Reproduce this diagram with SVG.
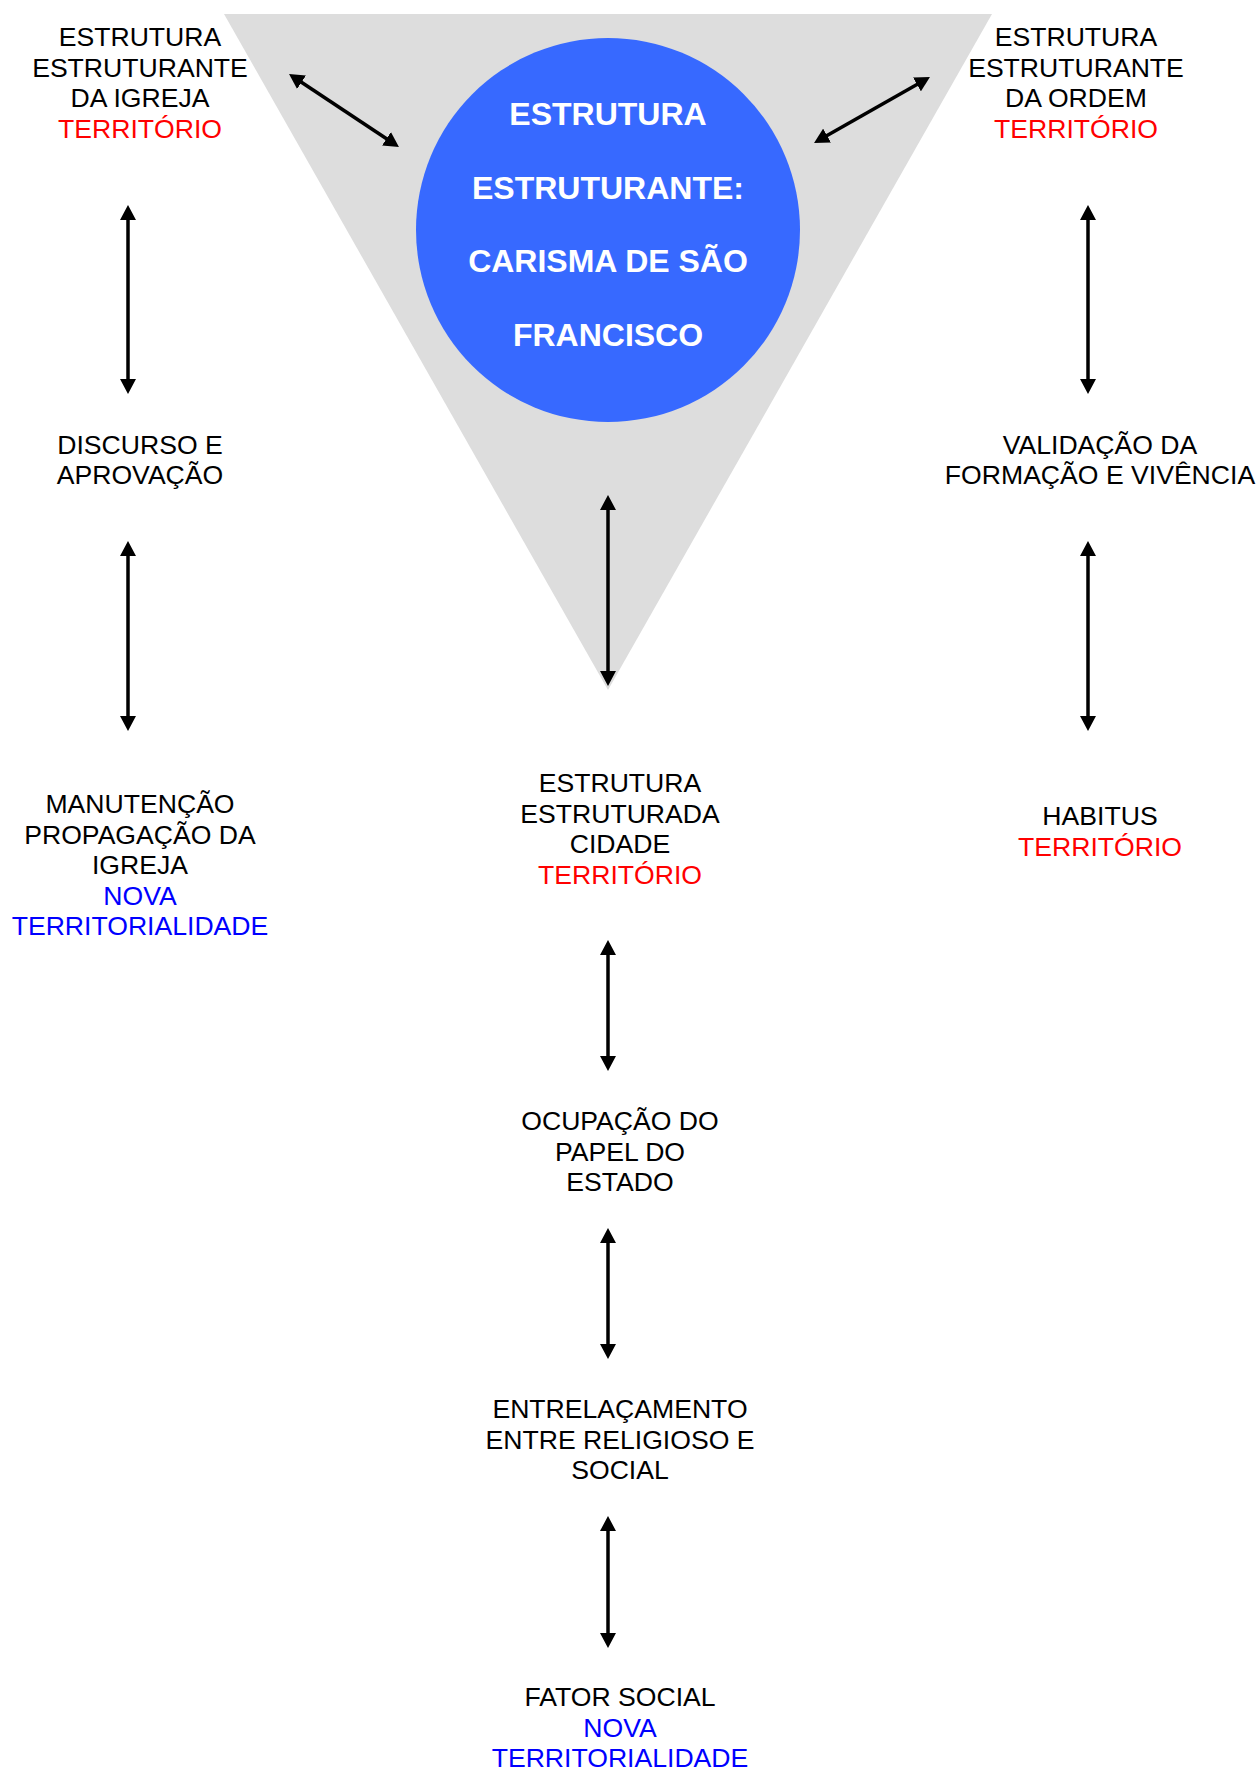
<svg xmlns="http://www.w3.org/2000/svg" width="1258" height="1771" viewBox="0 0 1258 1771">
<style>
text{font-family:"Liberation Sans",Arial,sans-serif;font-size:26.6px;text-anchor:middle;fill:#000}
.red{fill:#ff0000}
.blue{fill:#0000ff}
.core{font-weight:bold;font-size:32px;fill:#ffffff}
.conn line{stroke:#000;stroke-width:3.5;marker-start:url(#ah);marker-end:url(#ah)}
</style>
<defs>
<marker id="ah" viewBox="0 0 15 16" markerWidth="15" markerHeight="16" refX="1" refY="8" orient="auto-start-reverse" markerUnits="userSpaceOnUse">
<path d="M0,0 L15,8 L0,16 Z" fill="#000"/>
</marker>
</defs>
<rect width="1258" height="1771" fill="#fff"/>
<g id="triangle"><polygon points="224,14 992,14 608,690" fill="#dddddd"/></g>
<g id="core">
<circle cx="608" cy="230" r="192" fill="#3769ff"/>
<text class="core" x="608" y="125">ESTRUTURA</text>
<text class="core" x="608" y="199">ESTRUTURANTE:</text>
<text class="core" x="608" y="272">CARISMA DE SÃO</text>
<text class="core" x="608" y="346">FRANCISCO</text>
</g>
<g id="igreja">
<text x="140" y="46">ESTRUTURA</text>
<text x="140" y="76.5">ESTRUTURANTE</text>
<text x="140" y="107">DA IGREJA</text>
<text class="red" x="140" y="137.5">TERRITÓRIO</text>
</g>
<g id="ordem">
<text x="1076" y="46">ESTRUTURA</text>
<text x="1076" y="76.5">ESTRUTURANTE</text>
<text x="1076" y="107">DA ORDEM</text>
<text class="red" x="1076" y="137.5">TERRITÓRIO</text>
</g>
<g id="discurso">
<text x="140" y="454">DISCURSO E</text>
<text x="140" y="484">APROVAÇÃO</text>
</g>
<g id="manutencao">
<text x="140" y="813">MANUTENÇÃO</text>
<text x="140" y="844">PROPAGAÇÃO DA</text>
<text x="140" y="874">IGREJA</text>
<text class="blue" x="140" y="905">NOVA</text>
<text class="blue" x="140" y="935">TERRITORIALIDADE</text>
</g>
<g id="validacao">
<text x="1100" y="454">VALIDAÇÃO DA</text>
<text x="1100" y="484">FORMAÇÃO E VIVÊNCIA</text>
</g>
<g id="habitus">
<text x="1100" y="825">HABITUS</text>
<text class="red" x="1100" y="855.5">TERRITÓRIO</text>
</g>
<g id="cidade">
<text x="620" y="792">ESTRUTURA</text>
<text x="620" y="822.5">ESTRUTURADA</text>
<text x="620" y="853">CIDADE</text>
<text class="red" x="620" y="883.5">TERRITÓRIO</text>
</g>
<g id="estado">
<text x="620" y="1130">OCUPAÇÃO DO</text>
<text x="620" y="1160.5">PAPEL DO</text>
<text x="620" y="1191">ESTADO</text>
</g>
<g id="entrelacamento">
<text x="620" y="1418">ENTRELAÇAMENTO</text>
<text x="620" y="1448.5">ENTRE RELIGIOSO E</text>
<text x="620" y="1479">SOCIAL</text>
</g>
<g id="fator">
<text x="620" y="1706">FATOR SOCIAL</text>
<text class="blue" x="620" y="1736.5">NOVA</text>
<text class="blue" x="620" y="1767">TERRITORIALIDADE</text>
</g>
<g class="conn" id="connectors">
<line x1="300.7" y1="81.7" x2="387.3" y2="139.3"/>
<line x1="917.8" y1="83.9" x2="826.2" y2="136.1"/>
<line x1="128" y1="219" x2="128" y2="380"/>
<line x1="128" y1="555" x2="128" y2="717"/>
<line x1="1088" y1="219" x2="1088" y2="380"/>
<line x1="1088" y1="555" x2="1088" y2="717"/>
<line x1="608" y1="509" x2="608" y2="672"/>
<line x1="608" y1="954" x2="608" y2="1057"/>
<line x1="608" y1="1242" x2="608" y2="1345"/>
<line x1="608" y1="1530" x2="608" y2="1634"/>
</g>
</svg>
